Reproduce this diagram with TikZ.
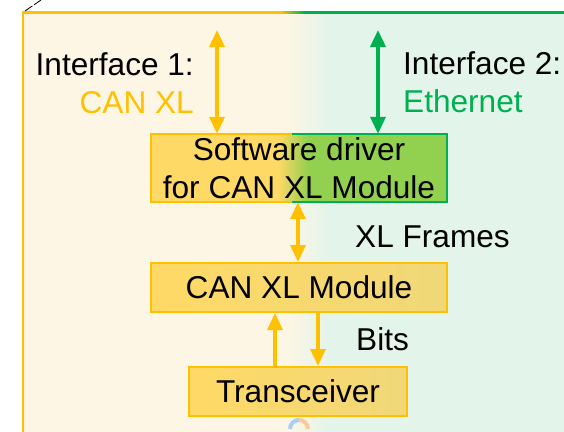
\documentclass[tikz,border=0pt]{standalone}
\usepackage{fontspec}
\setmainfont{Liberation Sans}
\usetikzlibrary{arrows.meta}

\definecolor{canyellow}{HTML}{FFC000}
\definecolor{ethgreen}{HTML}{00B050}
\definecolor{boxyellow}{HTML}{FFD966}
\definecolor{boxyellowB}{HTML}{F0D878}
\definecolor{boxgreen}{HTML}{92D050}
\definecolor{bgcream}{HTML}{FEF6E4}
\definecolor{bgmint}{HTML}{E3F4EA}
\definecolor{ringblue}{HTML}{A9CFF7}
\definecolor{ringorange}{HTML}{F9C9A0}

% yellow-to-green fill of the driver box (path spans 25bp..75bp)
\pgfdeclarehorizontalshading{driverfill}{100bp}{color(0bp)=(boxyellow); color(46.5bp)=(boxyellow); color(51.5bp)=(boxgreen); color(100bp)=(boxgreen)}

\tikzset{
  txt/.style={font=\fontsize{31.6}{38}\selectfont, inner sep=0pt},
  modbox/.style={txt, rectangle, align=center, draw=canyellow, line width=2pt,
    left color=boxyellow, right color=boxyellowB},
  yarrow/.style={draw=canyellow, line width=3.5pt,
    -{Triangle[width=15pt,length=17pt]}},
  yarrows/.style={draw=canyellow, line width=3.5pt,
    {Triangle[width=15pt,length=17pt]}-{Triangle[width=15pt,length=17pt]}},
  garrows/.style={draw=ethgreen, line width=3.5pt,
    {Triangle[width=15pt,length=17pt]}-{Triangle[width=15pt,length=17pt]}},
}

\begin{document}
\begin{tikzpicture}[x=1pt,y=-1pt]
\useasboundingbox (0,0) rectangle (564,431);

% background panel: CAN XL side (left) fading into Ethernet side (right)
\fill[bgcream] (23,12.5) rectangle (285,440);
\shade[left color=bgcream,right color=bgmint] (285,12.5) rectangle (330,440);
\fill[bgmint] (330,12.5) rectangle (570,440);
\draw[canyellow,line width=2.2pt] (23,440) -- (23,12.5) -- (281,12.5);
\shade[left color=canyellow,right color=ethgreen] (280,11.4) rectangle (305,13.6);
\draw[ethgreen,line width=2.2pt] (304,12.5) -- (570,12.5);
\draw[black,line width=0.8pt,dash pattern=on 9pt off 2pt] (25,11) -- (41,0);

% blocks
\node[txt, rectangle, align=center, shade, shading=driverfill,
      minimum width=296pt, minimum height=68pt] (drv) at (299,168)
  {Software driver\\for CAN XL Module};
\coordinate (split) at (292,0);
\draw[canyellow,line width=2pt] (drv.north -| split) -- (drv.north west)
  -- (drv.south west) -- (drv.south -| split);
\draw[ethgreen,line width=2pt] (drv.north -| split) -- (drv.north east)
  -- (drv.south east) -- (drv.south -| split);

\node[modbox, minimum width=296pt, minimum height=49pt] (mod) at (299,287.5) {CAN XL Module};
\node[modbox, minimum width=218pt, minimum height=49pt] (trx) at (298,391.5) {Transceiver};

% interface labels
\node[txt, anchor=base east] (if1) at (194,75) {Interface 1:};
\node[txt, anchor=base east, text=canyellow] (if1name) at (194,113) {CAN XL};
\node[txt, anchor=base west] (if2) at (403,74) {Interface 2:};
\node[txt, anchor=base west, text=ethgreen] (if2name) at (403,112) {Ethernet};
\node[txt, anchor=base west] (xlf) at (355,247) {XL Frames};
\node[txt, anchor=base west] (bits) at (356,350) {Bits};

% connectors
\coordinate (if1top) at (217,30);
\coordinate (if2top) at (378,30);
\coordinate (xlx) at (298,0);
\coordinate (upx) at (275,0);
\coordinate (downx) at (318,0);
\draw[yarrows] (if1top) -- (drv.north -| if1top);
\draw[garrows] (if2top) -- (drv.north -| if2top);
\draw[yarrows] (drv.south -| xlx) -- (mod.north -| xlx);
\draw[yarrow] (trx.north -| upx) -- (mod.south -| upx);
\draw[yarrow] (mod.south -| downx) -- (trx.north -| downx);

% ring peeking in at the bottom edge
\coordinate (ringc) at (299,429);
\draw[ringblue,line width=4pt] (ringc) ++(-9,0) arc[start angle=180,end angle=270,radius=9];
\draw[ringorange,line width=4pt] (ringc) ++(0,-9) arc[start angle=270,end angle=360,radius=9];
\end{tikzpicture}
\end{document}
